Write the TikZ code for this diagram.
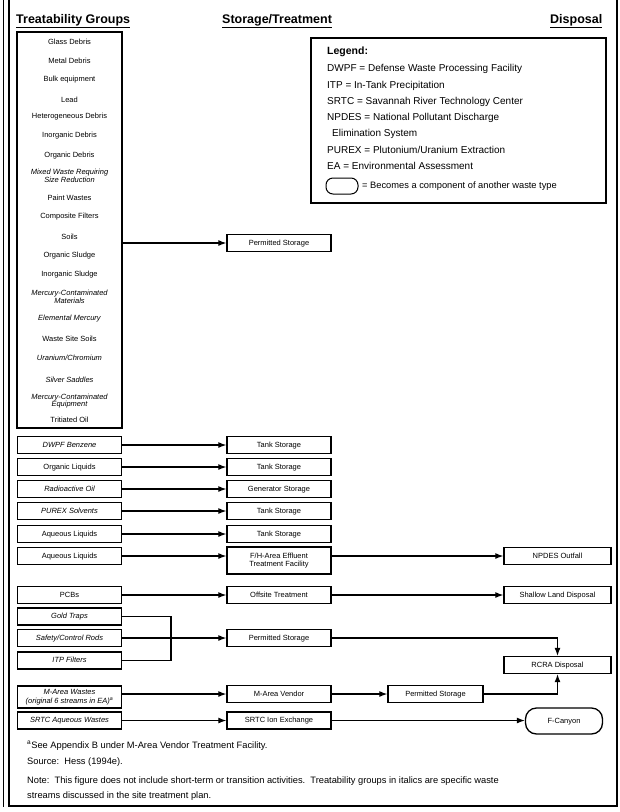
\documentclass[tikz,border=0pt]{standalone}
\usepackage{fontspec}
\setmainfont{Liberation Sans}
\usetikzlibrary{arrows.meta}
\begin{document}
\begin{tikzpicture}[x=1pt,y=-1pt,
  gb/.style={draw,line width=1.3pt,minimum width=104pt,minimum height=17pt,inner sep=1pt,align=center,font=\fontsize{7.5}{8}\selectfont},
  gbox/.style={gb,text height=5.6pt,text depth=1.4pt},
  mbox/.style={gbox,minimum width=104pt},
  rbox/.style={gbox,minimum width=107pt},
  item/.style={font=\fontsize{7.5}{7.5}\selectfont,align=center,inner sep=0pt},
  flow/.style={line width=1.2pt,-{Latex[length=8pt,width=6pt]}},
  conn/.style={line width=1.2pt},
  hdr/.style={font=\fontsize{12.5}{14}\selectfont\bfseries,anchor=base west,inner sep=0pt},
  leg/.style={font=\fontsize{10}{12}\selectfont,anchor=west,inner sep=0pt},
  note/.style={font=\fontsize{9.3}{11}\selectfont,anchor=west,inner sep=0pt}
]
\useasboundingbox (0,0) rectangle (620,812);
% frame
\draw[line width=1.6pt] (3.5,0) -- (3.5,807);
\draw[line width=1.4pt] (9,0) -- (9,806) -- (617,806) -- (617,0);

% headers
\node[hdr] (h1) at (16,23) {\underline{Treatability Groups}};
\node[hdr] (h2) at (222,23) {\underline{Storage/Treatment}};
\node[hdr] (h3) at (550,23) {\underline{Disposal}};

% legend
\node[draw,line width=1.2pt,minimum width=295pt,minimum height=165pt] (legend) at (458.5,120.5) {};
\node[leg,font=\fontsize{10.5}{12}\selectfont\bfseries] (lg0) at (327,52) {Legend:};
\node[leg] (lg1) at (327,69) {DWPF = Defense Waste Processing Facility};
\node[leg] (lg2) at (327,86) {ITP = In-Tank Precipitation};
\node[leg] (lg3) at (327,102) {SRTC = Savannah River Technology Center};
\node[leg] (lg4) at (327,118) {NPDES = National Pollutant Discharge};
\node[leg] (lg5) at (332,134) {Elimination System};
\node[leg] (lg6) at (327,150) {PUREX = Plutonium/Uranium Extraction};
\node[leg] (lg7) at (327,166) {EA = Environmental Assessment};
\node[draw,line width=1pt,rounded corners=7pt,minimum width=32pt,minimum height=16pt] (lgshape) at (342,186) {};
\node[leg,font=\fontsize{9.3}{11}\selectfont] (lg8) at (362,186) {= Becomes a component of another waste type};

% big list box
\node[draw,line width=1.3pt,minimum width=105pt,minimum height=396pt] (groups) at (69.5,230) {};
\node[item] (g1) at (69.5,42) {Glass Debris};
\node[item] (g2) at (69.5,61) {Metal Debris};
\node[item] (g3) at (69.5,80) {Bulk equipment};
\node[item] (g4) at (69.5,100) {Lead};
\node[item] (g5) at (69.5,117) {Heterogeneous Debris};
\node[item] (g6) at (69.5,136) {Inorganic Debris};
\node[item] (g7) at (69.5,156) {Organic Debris};
\node[item] (g8) at (69.5,176) {\itshape Mixed Waste Requiring\\\itshape Size Reduction};
\node[item] (g9) at (69.5,198) {Paint Wastes};
\node[item] (g10) at (69.5,217) {Composite Filters};
\node[item] (g11) at (69.5,237) {Soils};
\node[item] (g12) at (69.5,256) {Organic Sludge};
\node[item] (g13) at (69.5,275) {Inorganic Sludge};
\node[item] (g14) at (69.5,297) {\itshape Mercury-Contaminated\\\itshape Materials};
\node[item] (g15) at (69.5,319) {\itshape Elemental Mercury};
\node[item] (g16) at (69.5,339) {Waste Site Soils};
\node[item] (g17) at (69.5,358) {\itshape Uranium/Chromium};
\node[item] (g18) at (69.5,380) {\itshape Silver Saddles};
\node[item] (g19) at (69.5,401) {\itshape Mercury-Contaminated\\\itshape Equipment};
\node[item] (g20) at (69.5,420) {Tritiated Oil};

% storage column
\node[mbox] (perm1) at (279,243) {Permitted Storage};
\draw[flow] (groups.east |- perm1) -- (perm1.west);

% rows
\node[gbox] (dwpf) at (69.5,445) {\itshape DWPF Benzene};
\node[mbox] (tank1) at (279,445) {Tank Storage};
\node[gbox] (orgl) at (69.5,467) {Organic Liquids};
\node[mbox] (tank2) at (279,467) {Tank Storage};
\node[gbox] (radoil) at (69.5,489) {\itshape Radioactive Oil};
\node[mbox] (gen) at (279,489) {Generator Storage};
\node[gbox] (purex) at (69.5,511) {\itshape PUREX Solvents};
\node[mbox] (tank3) at (279,511) {Tank Storage};
\node[gbox] (aq1) at (69.5,534) {Aqueous Liquids};
\node[mbox] (tank4) at (279,534) {Tank Storage};
\node[gbox] (aq2) at (69.5,556) {Aqueous Liquids};
\node[gb,minimum height=27pt] (fh) at (279,560.5) {F/H-Area Effluent\\Treatment Facility};
\node[rbox] (npdes) at (557.5,556) {NPDES Outfall};
\draw[flow] (dwpf) -- (tank1);
\draw[flow] (orgl) -- (tank2);
\draw[flow] (radoil) -- (gen);
\draw[flow] (purex) -- (tank3);
\draw[flow] (aq1) -- (tank4);
\draw[flow] (aq2) -- (aq2 -| fh.west);
\draw[flow] (fh.east |- npdes) -- (npdes);

\node[gbox] (pcb) at (69.5,595) {PCBs};
\node[mbox] (offsite) at (279,595) {Offsite Treatment};
\node[rbox] (shallow) at (557.5,595) {Shallow Land Disposal};
\draw[flow] (pcb) -- (offsite);
\draw[flow] (offsite) -- (shallow);

\node[gbox] (gold) at (69.5,616.5) {\itshape Gold Traps};
\node[gbox] (safety) at (69.5,638) {\itshape Safety/Control Rods};
\node[gbox] (itp) at (69.5,660.5) {\itshape ITP Filters};
\node[mbox] (perm2) at (279,638) {Permitted Storage};
\coordinate (brk) at (171,0);
\draw[conn] (gold.east) -- (gold.east -| brk) -- (itp.east -| brk) -- (itp.east);
\draw[flow] (safety) -- (perm2);

\node[rbox] (rcra) at (557.5,665) {RCRA Disposal};
\draw[flow] (perm2.east) -| (rcra.north);

\node[gb,minimum height=22pt,font=\fontsize{7.5}{9}\selectfont] (marea) at (69.5,697) {\itshape M-Area Wastes\\\itshape (original 6 streams in EA)\textsuperscript{a}};
\node[mbox] (vendor) at (279,694) {M-Area Vendor};
\node[gbox,minimum width=95pt] (perm3) at (435.5,694) {Permitted Storage};
\draw[flow] (marea.east |- vendor) -- (vendor);
\draw[flow] (vendor) -- (perm3);
\draw[flow] (perm3.east) -| (rcra.south);

\node[gbox] (srtc) at (69.5,720.5) {\itshape SRTC Aqueous Wastes};
\node[mbox] (ionex) at (279,720.5) {SRTC Ion Exchange};
\node[gbox,rounded corners=11pt,minimum width=77pt,minimum height=26pt] (fcan) at (564,721) {F-Canyon};
\draw[flow] (srtc) -- (ionex);
\draw[flow] (ionex) -- (ionex -| fcan.west);

% notes
\node[note] (n1) at (27,746) {\textsuperscript{a}See Appendix B under M-Area Vendor Treatment Facility.};
\node[note] (n2) at (27,762) {Source:\ \ Hess (1994e).};
\node[note] (n3) at (27,781) {Note:\ \ This figure does not include short-term or transition activities.\ \ Treatability groups in italics are specific waste};
\node[note] (n4) at (27,796) {streams discussed in the site treatment plan.};
\end{tikzpicture}
\end{document}
